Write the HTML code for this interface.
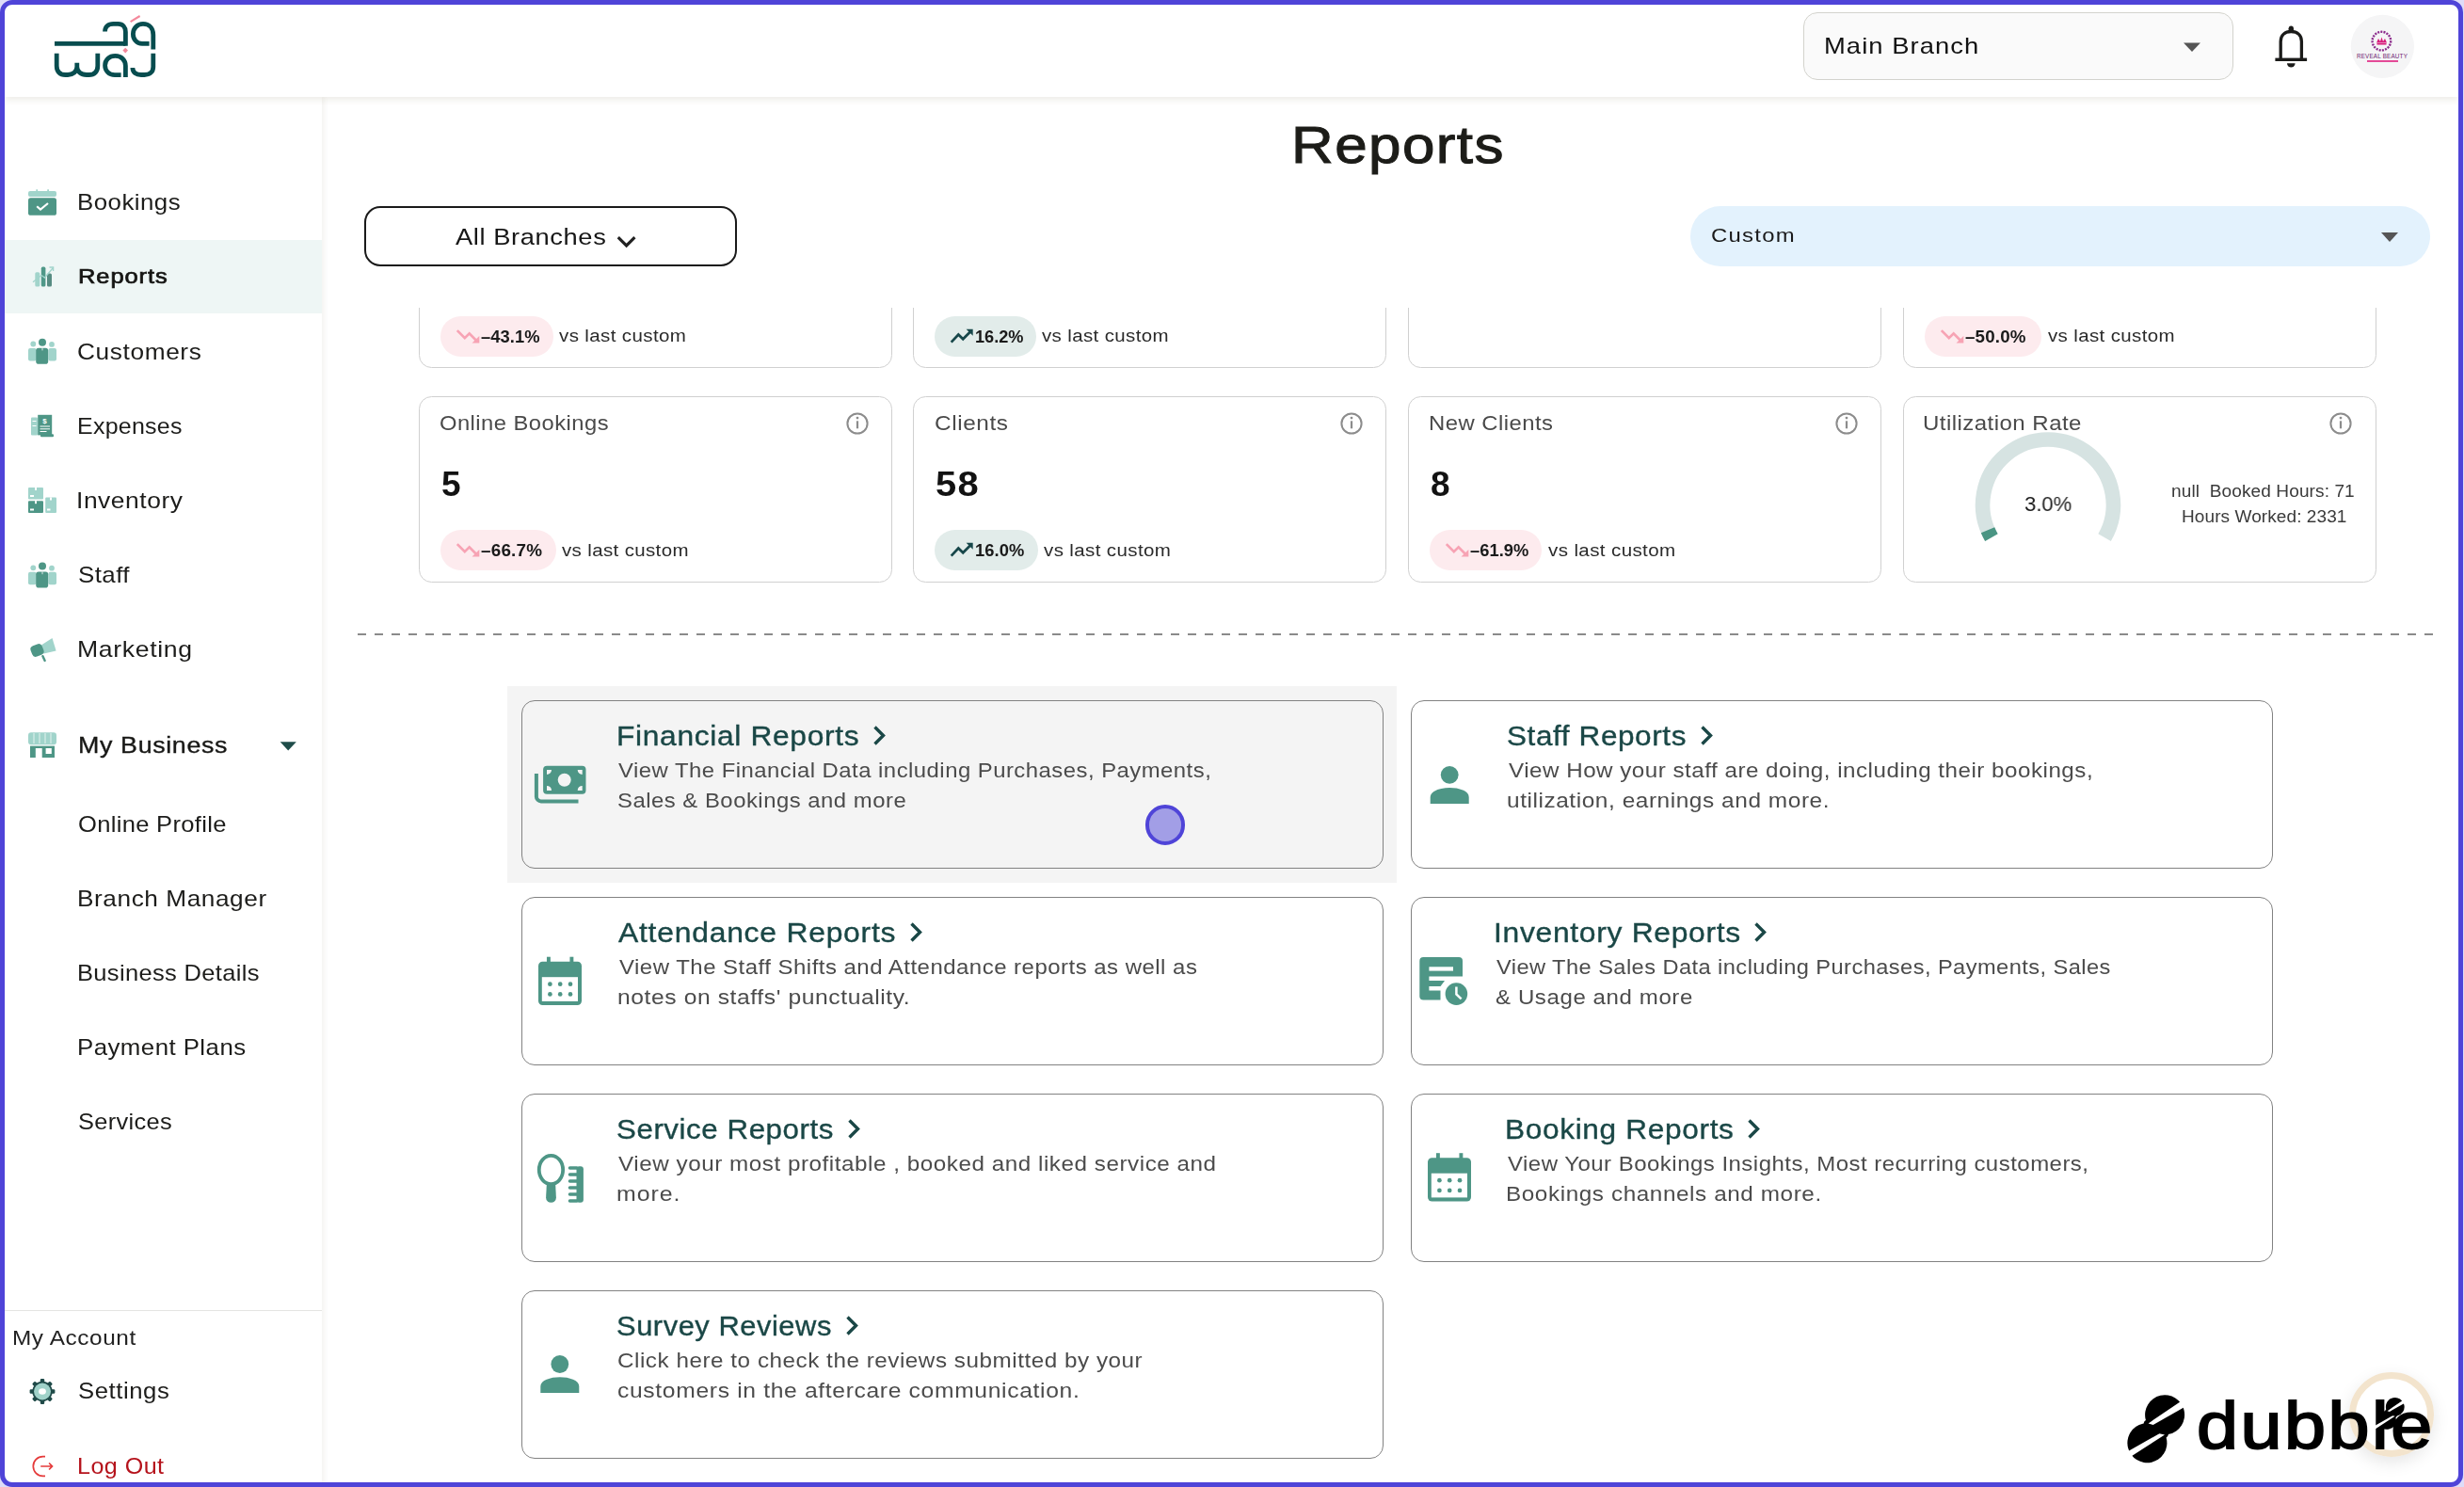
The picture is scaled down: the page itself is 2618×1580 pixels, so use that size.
<!DOCTYPE html>
<html><head><meta charset="utf-8"><title>Reports</title>
<style>
html,body{margin:0;padding:0;}
body{width:2618px;height:1580px;position:relative;overflow:hidden;background:#fff;
font-family:"Liberation Sans",sans-serif;}
.a{position:absolute;}
.t{position:absolute;white-space:nowrap;will-change:transform;}
.frame{position:absolute;left:0;top:0;width:2617px;height:1580px;box-sizing:border-box;
border:5px solid #4f44d8;border-radius:13px;z-index:50;pointer-events:none;
box-shadow:0 0 0 40px #dedcf8;}
</style></head><body>
<div class="a" style="left:5px;top:5px;width:2607px;height:98px;background:#fff;box-shadow:0 3px 7px rgba(95,80,40,0.11);z-index:2;"></div>
<svg class="a" style="left:50px;top:10px;z-index:3;" width="125" height="80" viewBox="50 10 125 80" xmlns="http://www.w3.org/2000/svg">
<g fill="none" stroke="#074d4f" stroke-width="4.8">
<path d="M58 46.4 H133.4"/>
<path d="M111.5 33.6 C111.5 28.5 115 25.4 120.5 25.4 H125.5 C130.5 25.4 133.4 28.8 133.4 34 V48.8"/>
<path d="M158.6 46.4 H151 C145 46.4 141.4 41.5 141.4 36 C141.4 30 146 25.4 152 25.4 C158.5 25.4 162.8 30 162.8 37 V52.6"/>
<path d="M60.2 56.8 V70 C60.2 76 63.5 79.5 69.5 79.5 H72 C77.5 79.5 81.8 76 81.8 71 V66.8 M81.8 71 C81.8 76 86 79.5 92 79.5 H94.5 C100.5 79.5 103.8 76 103.8 70 V56.8"/>
<path d="M128.6 79.6 H122 C115.5 79.6 111.6 75 111.6 69.5 C111.6 63.5 116 59.4 122.5 59.4 C129 59.4 133.4 64 133.4 70 V82"/>
<path d="M162.8 56.8 V71 C162.8 76.5 159 79.5 153.5 79.5 H150 C144.5 79.5 140.9 77 140.9 72"/>
</g>
<path d="M138.6 23.2 L148.6 17" stroke="#f4899c" stroke-width="2.1"/>
<path d="M133.2 50.8 L136 53.6 L133.2 56.4 L130.4 53.6 Z" fill="#f4899c"/>
</svg>
<div class="a" style="left:1916px;top:13px;width:457px;height:72px;box-sizing:border-box;border:1.5px solid #d3d3cd;border-radius:15px;background:#fafafa;z-index:3;"></div>
<div class="t" style="left:1938.42px;top:37.99px;font-size:23.4px;line-height:23.4px;color:#111;letter-spacing:0.895px;transform:scaleX(1.1711);transform-origin:0 0;z-index:4;">Main Branch</div>
<svg class="a" style="left:2318px;top:44px;z-index:4;" width="22" height="13" viewBox="2318 44 22 13" xmlns="http://www.w3.org/2000/svg"><path d="M2320 45.5 L2338 45.5 L2329 55 Z" fill="#555"/></svg>
<svg class="a" style="left:2412px;top:24px;z-index:4;" width="44" height="52" viewBox="2412 24 44 52" xmlns="http://www.w3.org/2000/svg">
<g fill="none" stroke="#1b1b19" stroke-width="3.3">
<path d="M2423.2 62 V44 C2423.2 37 2428 33.5 2434.3 33.5 C2440.6 33.5 2445.4 37 2445.4 44 V62"/>
</g>
<rect x="2417.4" y="61.6" width="33.7" height="3.4" fill="#1b1b19"/>
<circle cx="2434.3" cy="30.2" r="2.6" fill="#1b1b19"/>
<rect x="2431.7" y="30" width="5.2" height="3" fill="#1b1b19"/>
<path d="M2430 67.2 H2438.6 A4.3 4.3 0 0 1 2430 67.2 Z" fill="#1b1b19"/>
</svg>
<svg class="a" style="left:2496px;top:14px;z-index:4;" width="72" height="72" viewBox="2496 14 72 72" xmlns="http://www.w3.org/2000/svg">
<circle cx="2531.4" cy="49.4" r="33.6" fill="#f5f5f6"/>
<circle cx="2530.4" cy="43.6" r="9.8" fill="none" stroke="#8a2a8a" stroke-width="2.4" stroke-dasharray="2 1.2"/>
<path d="M2525 45.5 L2527 41 L2529 44 L2530.5 39.5 L2532 44 L2534 41 L2536 45.5 Z" fill="#d81b7a"/>
<rect x="2525.5" y="46" width="10" height="1.5" fill="#d81b7a"/>
<text x="2531" y="61.8" font-family="Liberation Sans" font-size="6.3" fill="#6f1f73" text-anchor="middle" letter-spacing="0.2">REVEAL BEAUTY</text>
<rect x="2515" y="64.2" width="33" height="1.6" fill="#e0217f"/>
</svg>
<div class="a" style="left:5px;top:103px;width:337px;height:1477px;background:#fff;box-shadow:2px 0 6px rgba(95,80,40,0.08);z-index:1;"></div>
<div class="a" style="left:5px;top:255px;width:337px;height:78px;background:#eef6f5;z-index:1;"></div>
<div class="t" style="left:81.65px;top:203.08px;font-size:24px;line-height:24px;color:#1c1c1a;letter-spacing:0.440px;transform:scaleX(1.0766);transform-origin:0 0;z-index:3;">Bookings</div>
<div class="t" style="left:82.58px;top:283.19px;font-size:22.1px;line-height:22.1px;color:#151513;letter-spacing:0.786px;transform:scaleX(1.1535);transform-origin:0 0;z-index:3;-webkit-text-stroke:0.7px #151513;">Reports</div>
<div class="t" style="left:82.49px;top:362.08px;font-size:24px;line-height:24px;color:#1c1c1a;letter-spacing:0.559px;transform:scaleX(1.0941);transform-origin:0 0;z-index:3;">Customers</div>
<div class="t" style="left:81.72px;top:441.18px;font-size:24px;line-height:24px;color:#1c1c1a;letter-spacing:0.246px;transform:scaleX(1.0396);transform-origin:0 0;z-index:3;">Expenses</div>
<div class="t" style="left:81.34px;top:519.88px;font-size:24px;line-height:24px;color:#1c1c1a;letter-spacing:0.499px;transform:scaleX(1.0994);transform-origin:0 0;z-index:3;">Inventory</div>
<div class="t" style="left:82.59px;top:598.98px;font-size:24px;line-height:24px;color:#1c1c1a;letter-spacing:0.401px;transform:scaleX(1.0800);transform-origin:0 0;z-index:3;">Staff</div>
<div class="t" style="left:81.58px;top:678.38px;font-size:24px;line-height:24px;color:#1c1c1a;letter-spacing:0.576px;transform:scaleX(1.1088);transform-origin:0 0;z-index:3;">Marketing</div>
<div class="t" style="left:82.56px;top:780.25px;font-size:24.4px;line-height:24.4px;color:#181816;letter-spacing:0.568px;transform:scaleX(1.1006);transform-origin:0 0;z-index:3;-webkit-text-stroke:0.35px #181816;">My Business</div>
<div class="t" style="left:82.61px;top:863.68px;font-size:24px;line-height:24px;color:#1c1c1a;letter-spacing:0.294px;transform:scaleX(1.0641);transform-origin:0 0;z-index:3;">Online Profile</div>
<div class="t" style="left:81.62px;top:943.08px;font-size:24px;line-height:24px;color:#1c1c1a;letter-spacing:0.518px;transform:scaleX(1.0921);transform-origin:0 0;z-index:3;">Branch Manager</div>
<div class="t" style="left:81.68px;top:1021.78px;font-size:24px;line-height:24px;color:#1c1c1a;letter-spacing:0.306px;transform:scaleX(1.0625);transform-origin:0 0;z-index:3;">Business Details</div>
<div class="t" style="left:81.65px;top:1101.48px;font-size:24px;line-height:24px;color:#1c1c1a;letter-spacing:0.421px;transform:scaleX(1.0759);transform-origin:0 0;z-index:3;">Payment Plans</div>
<div class="t" style="left:82.61px;top:1179.98px;font-size:24px;line-height:24px;color:#1c1c1a;letter-spacing:0.316px;transform:scaleX(1.0584);transform-origin:0 0;z-index:3;">Services</div>
<svg class="a" style="left:28px;top:199px;z-index:3;" width="34" height="32" viewBox="28 199 34 32" xmlns="http://www.w3.org/2000/svg">
<rect x="30" y="203" width="30" height="6" rx="2" fill="#a1d4cb"/>
<rect x="38.3" y="201.3" width="1.8" height="3" fill="#a1d4cb"/>
<rect x="50.2" y="201.3" width="1.8" height="3" fill="#a1d4cb"/>
<rect x="30" y="210.2" width="30" height="18.6" rx="2.6" fill="#4e9686"/>
<path d="M39.2 219.2 L43 222.6 L51 216" fill="none" stroke="#fff" stroke-width="2.2"/>
</svg>
<svg class="a" style="left:33px;top:282px;z-index:3;" width="26" height="24" viewBox="33 282 26 24" xmlns="http://www.w3.org/2000/svg">
<rect x="37.3" y="289.2" width="5" height="15.4" rx="1.6" fill="#a1d4cb"/>
<rect x="43.8" y="283.6" width="4.6" height="21" rx="1.6" fill="#4f9888"/>
<rect x="50" y="290.6" width="5" height="14" rx="1.6" fill="#578c82"/>
<path d="M35 299.8 L44 292.5 L47.5 295 L56 285" fill="none" stroke="#a1d4cb" stroke-width="1.3"/>
<path d="M52.5 284 L56.6 284 L56.6 288" fill="none" stroke="#a1d4cb" stroke-width="1.3"/>
</svg>
<svg class="a" style="left:28px;top:357px;z-index:3;" width="34" height="32" viewBox="28 357 34 32" xmlns="http://www.w3.org/2000/svg">
<circle cx="35.3" cy="365.5" r="2.9" fill="#a1d4cb"/>
<rect x="30" y="369.9" width="8.6" height="13.6" rx="2" fill="#a1d4cb"/>
<circle cx="55" cy="365.9" r="2.9" fill="#a1d4cb"/>
<rect x="51.4" y="369.9" width="8.6" height="13.6" rx="2" fill="#a1d4cb"/>
<circle cx="45" cy="363.7" r="4" fill="#4e9686"/>
<rect x="38.2" y="369.7" width="13" height="17" rx="2.8" fill="#4e9686"/>
<path d="M45 369.7 V372.4" stroke="#fff" stroke-width="0.8"/>
</svg>
<svg class="a" style="left:28px;top:595px;z-index:3;" width="34" height="32" viewBox="28 595 34 32" xmlns="http://www.w3.org/2000/svg">
<circle cx="35.3" cy="603.3000000000001" r="2.9" fill="#a1d4cb"/>
<rect x="30" y="607.7" width="8.6" height="13.6" rx="2" fill="#a1d4cb"/>
<circle cx="55" cy="603.7" r="2.9" fill="#a1d4cb"/>
<rect x="51.4" y="607.7" width="8.6" height="13.6" rx="2" fill="#a1d4cb"/>
<circle cx="45" cy="601.5" r="4" fill="#4e9686"/>
<rect x="38.2" y="607.5" width="13" height="17" rx="2.8" fill="#4e9686"/>
<path d="M45 607.5 V610.2" stroke="#fff" stroke-width="0.8"/>
</svg>
<svg class="a" style="left:31px;top:439px;z-index:3;" width="28" height="28" viewBox="31 439 28 28" xmlns="http://www.w3.org/2000/svg">
<rect x="33" y="443.4" width="7" height="19" rx="1" fill="#a1d4cb"/>
<rect x="34.5" y="447" width="4" height="1" fill="#fff"/>
<rect x="34.5" y="452" width="4" height="1" fill="#fff"/>
<rect x="40.2" y="440.8" width="15" height="21.6" fill="#4e9686"/>
<text x="47.6" y="450" font-family="Liberation Sans" font-weight="700" font-size="8" fill="#fff" text-anchor="middle">$</text>
<rect x="42.5" y="452.5" width="10.5" height="1" fill="#fff"/>
<rect x="42.5" y="455.3" width="10.5" height="1" fill="#fff"/>
<rect x="42.5" y="458" width="7" height="1" fill="#fff"/>
<rect x="43" y="461.2" width="14" height="3" rx="1" fill="#4e9686"/>
</svg>
<svg class="a" style="left:28px;top:516px;z-index:3;" width="34" height="31" viewBox="28 516 34 31" xmlns="http://www.w3.org/2000/svg">
<rect x="30" y="518" width="16" height="12.6" rx="1" fill="#a1d4cb"/>
<rect x="30" y="532.2" width="16" height="12.8" rx="1" fill="#4e9686"/>
<rect x="48.2" y="528.5" width="11.8" height="16.5" rx="1" fill="#a1d4cb"/>
<rect x="37" y="518" width="2" height="3" fill="#fff"/>
<rect x="37" y="532.2" width="2" height="3" fill="#fff"/>
<rect x="53" y="528.5" width="2" height="3" fill="#fff"/>
<rect x="32" y="526" width="4" height="2" fill="#fff"/>
<rect x="32" y="540.5" width="4" height="2" fill="#fff"/>
<rect x="50" y="540.5" width="3.5" height="2" fill="#fff"/>
</svg>
<svg class="a" style="left:30px;top:676px;z-index:3;" width="32" height="30" viewBox="30 676 32 30" xmlns="http://www.w3.org/2000/svg">
<path d="M43 686 L55.5 678 L59.6 691.5 L46.5 694.5 Z" fill="#a1d4cb"/>
<rect x="33" y="685" width="13" height="12" rx="4" fill="#4e9686" transform="rotate(-22 39.5 691)"/>
<rect x="45" y="696" width="2.4" height="7.5" rx="1" fill="#4e9686" transform="rotate(-25 46 699)"/>
</svg>
<svg class="a" style="left:28px;top:776px;z-index:3;" width="34" height="31" viewBox="28 776 34 31" xmlns="http://www.w3.org/2000/svg">
<rect x="30" y="778.2" width="30" height="13" rx="3" fill="#a1d4cb"/>
<path d="M36 779 V790 M42 779 V790 M48 779 V790 M54 779 V790" stroke="#fff" stroke-width="0.7"/>
<rect x="32" y="792.6" width="26" height="12.4" fill="#4e9686"/>
<rect x="37.8" y="795" width="6.9" height="10" fill="#fff"/>
<rect x="48.6" y="795" width="6.2" height="6" fill="#fff"/>
</svg>
<svg class="a" style="left:296px;top:786px;z-index:3;" width="21" height="14" viewBox="296 786 21 14" xmlns="http://www.w3.org/2000/svg"><path d="M297.7 788.2 L314.8 788.2 L306.2 797.6 Z" fill="#1f4d4a"/></svg>
<div class="a" style="left:5px;top:1391.5px;width:337px;height:1.5px;background:#e4e4e2;z-index:3;"></div>
<div class="t" style="left:13.17px;top:1411.38px;font-size:22px;line-height:22px;color:#222;letter-spacing:0.548px;transform:scaleX(1.1060);transform-origin:0 0;z-index:3;">My Account</div>
<svg class="a" style="left:30px;top:1463px;z-index:3;" width="31" height="31" viewBox="30 1463 31 31" xmlns="http://www.w3.org/2000/svg">
<g transform="translate(45 1478.5)">
<g fill="#1f4a48">
<circle r="10.7"/>
<rect x="-2.2" y="-13.4" width="4.4" height="4.6" rx="1.2" transform="rotate(0)"/><rect x="-2.2" y="-13.4" width="4.4" height="4.6" rx="1.2" transform="rotate(45)"/><rect x="-2.2" y="-13.4" width="4.4" height="4.6" rx="1.2" transform="rotate(90)"/><rect x="-2.2" y="-13.4" width="4.4" height="4.6" rx="1.2" transform="rotate(135)"/><rect x="-2.2" y="-13.4" width="4.4" height="4.6" rx="1.2" transform="rotate(180)"/><rect x="-2.2" y="-13.4" width="4.4" height="4.6" rx="1.2" transform="rotate(225)"/><rect x="-2.2" y="-13.4" width="4.4" height="4.6" rx="1.2" transform="rotate(270)"/><rect x="-2.2" y="-13.4" width="4.4" height="4.6" rx="1.2" transform="rotate(315)"/>
</g>
<circle r="9" fill="#a0d2c9"/>
<ellipse rx="3.9" ry="3.3" fill="#fff"/>
</g></svg>
<div class="t" style="left:82.60px;top:1467.08px;font-size:23.3px;line-height:23.3px;color:#1c1c1a;letter-spacing:0.508px;transform:scaleX(1.1038);transform-origin:0 0;z-index:3;">Settings</div>
<svg class="a" style="left:32px;top:1545px;z-index:3;" width="26" height="26" viewBox="32 1545 26 26" xmlns="http://www.w3.org/2000/svg">
<path d="M48 1547.7 H45.6 A10.3 10.3 0 0 0 45.6 1568.3 H48" fill="none" stroke="#e53b3b" stroke-width="1.7"/>
<path d="M43.2 1558 H55.4 M52.1 1554.5 L55.5 1558 L52.1 1561.5" fill="none" stroke="#e53b3b" stroke-width="1.7"/>
</svg>
<div class="t" style="left:81.71px;top:1546.68px;font-size:23.3px;line-height:23.3px;color:#b5121b;letter-spacing:0.435px;transform:scaleX(1.0771);transform-origin:0 0;z-index:3;">Log Out</div>
<div class="t" style="left:1371.64px;top:126.36px;font-size:56.4px;line-height:56.4px;color:#1c1c18;letter-spacing:1.300px;transform:scaleX(1.0981);transform-origin:0 0;-webkit-text-stroke:1.1px #1c1c18;">Reports</div>
<div class="a" style="left:387px;top:219px;width:396px;height:64px;box-sizing:border-box;border:2px solid #1a1a1a;border-radius:17px;background:#fff;"></div>
<div class="t" style="left:484.11px;top:239.81px;font-size:24.8px;line-height:24.8px;color:#161616;letter-spacing:0.532px;transform:scaleX(1.1016);transform-origin:0 0;">All Branches</div>
<svg class="a" style="left:653px;top:248px;" width="25" height="17" viewBox="653 248 25 17" xmlns="http://www.w3.org/2000/svg"><path d="M656.8 252.2 L665.6 261 L674.4 252.2" fill="none" stroke="#222" stroke-width="3.2"/></svg>
<div class="a" style="left:1796px;top:219px;width:786px;height:64px;border-radius:32px;background:#e3f2fd;"></div>
<div class="t" style="left:1817.81px;top:240.75px;font-size:19.9px;line-height:19.9px;color:#1a1a1a;letter-spacing:1.073px;transform:scaleX(1.1992);transform-origin:0 0;">Custom</div>
<svg class="a" style="left:2528px;top:245px;" width="22" height="14" viewBox="2528 245 22 14" xmlns="http://www.w3.org/2000/svg"><path d="M2530 247 L2548 247 L2539 257 Z" fill="#555"/></svg>
<div class="a" style="left:400px;top:327px;width:2180px;height:310px;overflow:hidden;">
<div class="a" style="left:-400px;top:-327px;width:2618px;height:1000px;">
<div class="a" style="left:445px;top:193.2px;width:503px;height:197.6px;box-sizing:border-box;border:1.8px solid #d0d0d0;border-radius:13.5px;background:#fff;"></div>
<div class="a" style="left:445px;top:421.2px;width:503px;height:197.6px;box-sizing:border-box;border:1.8px solid #d0d0d0;border-radius:13.5px;background:#fff;"></div>
<div class="a" style="left:970.3px;top:193.2px;width:503px;height:197.6px;box-sizing:border-box;border:1.8px solid #d0d0d0;border-radius:13.5px;background:#fff;"></div>
<div class="a" style="left:970.3px;top:421.2px;width:503px;height:197.6px;box-sizing:border-box;border:1.8px solid #d0d0d0;border-radius:13.5px;background:#fff;"></div>
<div class="a" style="left:1496px;top:193.2px;width:503px;height:197.6px;box-sizing:border-box;border:1.8px solid #d0d0d0;border-radius:13.5px;background:#fff;"></div>
<div class="a" style="left:1496px;top:421.2px;width:503px;height:197.6px;box-sizing:border-box;border:1.8px solid #d0d0d0;border-radius:13.5px;background:#fff;"></div>
<div class="a" style="left:2021.5px;top:193.2px;width:503px;height:197.6px;box-sizing:border-box;border:1.8px solid #d0d0d0;border-radius:13.5px;background:#fff;"></div>
<div class="a" style="left:2021.5px;top:421.2px;width:503px;height:197.6px;box-sizing:border-box;border:1.8px solid #d0d0d0;border-radius:13.5px;background:#fff;"></div>
<div class="a" style="left:467.5px;top:336px;width:120.3px;height:43px;border-radius:22px;background:#fdebee;"></div>
<div class="t" style="left:510.85px;top:348.89px;font-size:18.2px;line-height:18.2px;color:#1a1a1a;font-weight:700;letter-spacing:0.052px;transform:scaleX(1.0100);transform-origin:0 0;">–43.1%</div>
<div class="t" style="left:593.93px;top:348.39px;font-size:18.8px;line-height:18.8px;color:#2a2a2a;letter-spacing:0.348px;transform:scaleX(1.0920);transform-origin:0 0;">vs last custom</div>
<svg class="a" style="left:479.5px;top:346px;" width="34" height="24" viewBox="479.5 346 34 24" xmlns="http://www.w3.org/2000/svg">
<path d="M485.30 351.10 L493.30 359.10 L498.20 354.30 L506.00 362.20" fill="none" stroke="#f7a3b4" stroke-width="2.7"/>
<path d="M508.80 356.90 L508.80 364.50 L501.00 364.50 Z" fill="#f7a3b4"/></svg>
<div class="a" style="left:993.2px;top:336px;width:108.1px;height:43px;border-radius:22px;background:#e2ecea;"></div>
<div class="t" style="left:1035.86px;top:348.89px;font-size:18.2px;line-height:18.2px;color:#1a1a1a;font-weight:700;letter-spacing:-0.037px;transform:scaleX(0.9931);transform-origin:0 0;">16.2%</div>
<div class="t" style="left:1107.43px;top:348.39px;font-size:18.8px;line-height:18.8px;color:#2a2a2a;letter-spacing:0.342px;transform:scaleX(1.0903);transform-origin:0 0;">vs last custom</div>
<svg class="a" style="left:1005.2px;top:346px;" width="34" height="24" viewBox="1005.2 346 34 24" xmlns="http://www.w3.org/2000/svg">
<path d="M1010.90 363.60 L1018.50 355.50 L1023.40 360.30 L1031.40 352.30" fill="none" stroke="#17474a" stroke-width="2.7"/>
<path d="M1026.80 349.70 L1033.90 349.70 L1033.90 356.80 Z" fill="#17474a"/></svg>
<div class="a" style="left:2044.6px;top:336px;width:124.9px;height:43px;border-radius:22px;background:#fdebee;"></div>
<div class="t" style="left:2087.94px;top:348.89px;font-size:18.2px;line-height:18.2px;color:#1a1a1a;font-weight:700;letter-spacing:0.164px;transform:scaleX(1.0317);transform-origin:0 0;">–50.0%</div>
<div class="t" style="left:2176.23px;top:348.39px;font-size:18.8px;line-height:18.8px;color:#2a2a2a;letter-spacing:0.342px;transform:scaleX(1.0903);transform-origin:0 0;">vs last custom</div>
<svg class="a" style="left:2056.6px;top:346px;" width="34" height="24" viewBox="2056.6 346 34 24" xmlns="http://www.w3.org/2000/svg">
<path d="M2062.40 351.10 L2070.40 359.10 L2075.30 354.30 L2083.10 362.20" fill="none" stroke="#f7a3b4" stroke-width="2.7"/>
<path d="M2085.90 356.90 L2085.90 364.50 L2078.10 364.50 Z" fill="#f7a3b4"/></svg>
<div class="t" style="left:467.29px;top:438.55px;font-size:21.8px;line-height:21.8px;color:#4a4a4a;letter-spacing:0.423px;transform:scaleX(1.0903);transform-origin:0 0;">Online Bookings</div>
<svg class="a" style="left:897.5px;top:436.5px;" width="26" height="26" viewBox="897.5 436.5 26 26" xmlns="http://www.w3.org/2000/svg">
<circle cx="910.5" cy="449.5" r="10.6" fill="none" stroke="#8c8c8c" stroke-width="2"/>
<rect x="909.4" y="446.8" width="2.2" height="8" fill="#8c8c8c"/>
<circle cx="910.5" cy="443.6" r="1.4" fill="#8c8c8c"/></svg>
<div class="t" style="left:992.58px;top:438.55px;font-size:21.8px;line-height:21.8px;color:#4a4a4a;letter-spacing:0.528px;transform:scaleX(1.1179);transform-origin:0 0;">Clients</div>
<svg class="a" style="left:1422.8px;top:436.5px;" width="26" height="26" viewBox="1422.8 436.5 26 26" xmlns="http://www.w3.org/2000/svg">
<circle cx="1435.8" cy="449.5" r="10.6" fill="none" stroke="#8c8c8c" stroke-width="2"/>
<rect x="1434.7" y="446.8" width="2.2" height="8" fill="#8c8c8c"/>
<circle cx="1435.8" cy="443.6" r="1.4" fill="#8c8c8c"/></svg>
<div class="t" style="left:1518.01px;top:438.55px;font-size:21.8px;line-height:21.8px;color:#4a4a4a;letter-spacing:0.444px;transform:scaleX(1.0934);transform-origin:0 0;">New Clients</div>
<svg class="a" style="left:1948.5px;top:436.5px;" width="26" height="26" viewBox="1948.5 436.5 26 26" xmlns="http://www.w3.org/2000/svg">
<circle cx="1961.5" cy="449.5" r="10.6" fill="none" stroke="#8c8c8c" stroke-width="2"/>
<rect x="1960.4" y="446.8" width="2.2" height="8" fill="#8c8c8c"/>
<circle cx="1961.5" cy="443.6" r="1.4" fill="#8c8c8c"/></svg>
<div class="t" style="left:2043.46px;top:438.55px;font-size:21.8px;line-height:21.8px;color:#4a4a4a;letter-spacing:0.411px;transform:scaleX(1.1028);transform-origin:0 0;">Utilization Rate</div>
<svg class="a" style="left:2474.0px;top:436.5px;" width="26" height="26" viewBox="2474.0 436.5 26 26" xmlns="http://www.w3.org/2000/svg">
<circle cx="2487.0" cy="449.5" r="10.6" fill="none" stroke="#8c8c8c" stroke-width="2"/>
<rect x="2485.9" y="446.8" width="2.2" height="8" fill="#8c8c8c"/>
<circle cx="2487.0" cy="443.6" r="1.4" fill="#8c8c8c"/></svg>
<div class="t" style="left:468.59px;top:495.88px;font-size:37px;line-height:37px;color:#121212;font-weight:700;">5</div>
<div class="t" style="left:993.60px;top:495.88px;font-size:37px;line-height:37px;color:#121212;font-weight:700;letter-spacing:1.278px;transform:scaleX(1.0782);transform-origin:0 0;">58</div>
<div class="t" style="left:1519.59px;top:495.88px;font-size:37px;line-height:37px;color:#121212;font-weight:700;">8</div>
<div class="a" style="left:467.5px;top:563.4px;width:123.2px;height:43px;border-radius:22px;background:#fdebee;"></div>
<div class="t" style="left:510.93px;top:576.29px;font-size:18.2px;line-height:18.2px;color:#1a1a1a;font-weight:700;letter-spacing:0.193px;transform:scaleX(1.0374);transform-origin:0 0;">–66.7%</div>
<div class="t" style="left:596.93px;top:575.79px;font-size:18.8px;line-height:18.8px;color:#2a2a2a;letter-spacing:0.340px;transform:scaleX(1.0897);transform-origin:0 0;">vs last custom</div>
<svg class="a" style="left:479.5px;top:573.4px;" width="34" height="24" viewBox="479.5 573.4 34 24" xmlns="http://www.w3.org/2000/svg">
<path d="M485.30 578.50 L493.30 586.50 L498.20 581.70 L506.00 589.60" fill="none" stroke="#f7a3b4" stroke-width="2.7"/>
<path d="M508.80 584.30 L508.80 591.90 L501.00 591.90 Z" fill="#f7a3b4"/></svg>
<div class="a" style="left:993.2px;top:563.4px;width:109.7px;height:43px;border-radius:22px;background:#e2ecea;"></div>
<div class="t" style="left:1035.84px;top:576.29px;font-size:18.2px;line-height:18.2px;color:#1a1a1a;font-weight:700;letter-spacing:0.046px;transform:scaleX(1.0085);transform-origin:0 0;">16.0%</div>
<div class="t" style="left:1108.93px;top:575.79px;font-size:18.8px;line-height:18.8px;color:#2a2a2a;letter-spacing:0.348px;transform:scaleX(1.0920);transform-origin:0 0;">vs last custom</div>
<svg class="a" style="left:1005.2px;top:573.4px;" width="34" height="24" viewBox="1005.2 573.4 34 24" xmlns="http://www.w3.org/2000/svg">
<path d="M1010.90 591.00 L1018.50 582.90 L1023.40 587.70 L1031.40 579.70" fill="none" stroke="#17474a" stroke-width="2.7"/>
<path d="M1026.80 577.10 L1033.90 577.10 L1033.90 584.20 Z" fill="#17474a"/></svg>
<div class="a" style="left:1519.3px;top:563.4px;width:119.2px;height:43px;border-radius:22px;background:#fdebee;"></div>
<div class="t" style="left:1561.75px;top:576.29px;font-size:18.2px;line-height:18.2px;color:#1a1a1a;font-weight:700;letter-spacing:0.034px;transform:scaleX(1.0066);transform-origin:0 0;">–61.9%</div>
<div class="t" style="left:1644.53px;top:575.79px;font-size:18.8px;line-height:18.8px;color:#2a2a2a;letter-spacing:0.353px;transform:scaleX(1.0932);transform-origin:0 0;">vs last custom</div>
<svg class="a" style="left:1531.3px;top:573.4px;" width="34" height="24" viewBox="1531.3 573.4 34 24" xmlns="http://www.w3.org/2000/svg">
<path d="M1537.10 578.50 L1545.10 586.50 L1550.00 581.70 L1557.80 589.60" fill="none" stroke="#f7a3b4" stroke-width="2.7"/>
<path d="M1560.60 584.30 L1560.60 591.90 L1552.80 591.90 Z" fill="#f7a3b4"/></svg>
<svg class="a" style="left:2090px;top:450px;" width="175" height="140" viewBox="2090 450 175 140" xmlns="http://www.w3.org/2000/svg">
<path d="M2115.90 571.10 A69.4 69.4 0 1 1 2236.10 571.10" fill="none" stroke="#d6e3e2" stroke-width="15.6"/>
<path d="M2115.90 571.10 A69.4 69.4 0 0 1 2112.02 563.29" fill="none" stroke="#4a9583" stroke-width="15.6"/></svg>
<div class="t" style="left:2150.99px;top:524.95px;font-size:22.5px;line-height:22.5px;color:#1e1e1e;letter-spacing:-0.106px;transform:scaleX(0.9851);transform-origin:0 0;">3.0%</div>
<div class="t" style="left:2307.23px;top:513.17px;font-size:18.7px;line-height:18.7px;color:#3a3a3a;letter-spacing:0.079px;transform:scaleX(1.0209);transform-origin:0 0;white-space:pre;">null  Booked Hours: 71</div>
<div class="t" style="left:2317.61px;top:540.37px;font-size:18.7px;line-height:18.7px;color:#3a3a3a;letter-spacing:0.076px;transform:scaleX(1.0179);transform-origin:0 0;">Hours Worked: 2331</div>
</div></div>
<div class="a" style="left:380px;top:672.5px;width:2205px;height:2px;background:repeating-linear-gradient(90deg,#8a8a8a 0 9px,transparent 9px 18px);"></div>
<div class="a" style="left:539.2px;top:729.3px;width:945.2px;height:208.7px;background:#f4f4f4;"></div>
<div class="a" style="left:554px;top:744px;width:915.7px;height:179.4px;box-sizing:border-box;border:1.75px solid #828282;border-radius:14px;background:#f4f4f4;"></div>
<div class="t" style="left:654.76px;top:768.01px;font-size:28.7px;line-height:28.7px;color:#1a4746;letter-spacing:0.605px;transform:scaleX(1.1058);transform-origin:0 0;font-weight:400;-webkit-text-stroke:0.35px #1a4746;">Financial Reports</div>
<svg class="a" style="left:925.5px;top:769px;" width="18" height="24" viewBox="925.5 769 18 24" xmlns="http://www.w3.org/2000/svg"><path d="M929.0 772.5 L938.0 781.5 L929.0 790.5" fill="none" stroke="#1a4746" stroke-width="3.4"/></svg>
<div class="t" style="left:657.32px;top:808.33px;font-size:21.7px;line-height:21.7px;color:#4b4b4b;letter-spacing:0.435px;transform:scaleX(1.1011);transform-origin:0 0;">View The Financial Data including Purchases, Payments,</div>
<div class="t" style="left:656.29px;top:840.43px;font-size:21.7px;line-height:21.7px;color:#4b4b4b;letter-spacing:0.463px;transform:scaleX(1.1002);transform-origin:0 0;">Sales &amp; Bookings and more</div>
<div class="a" style="left:1499px;top:744px;width:915.7px;height:179.4px;box-sizing:border-box;border:1.75px solid #828282;border-radius:14px;background:#fff;"></div>
<div class="t" style="left:1601.23px;top:768.01px;font-size:28.7px;line-height:28.7px;color:#1a4746;letter-spacing:0.555px;transform:scaleX(1.0969);transform-origin:0 0;font-weight:400;-webkit-text-stroke:0.35px #1a4746;">Staff Reports</div>
<svg class="a" style="left:1804.8px;top:769px;" width="18" height="24" viewBox="1804.8 769 18 24" xmlns="http://www.w3.org/2000/svg"><path d="M1808.3 772.5 L1817.3 781.5 L1808.3 790.5" fill="none" stroke="#1a4746" stroke-width="3.4"/></svg>
<div class="t" style="left:1602.62px;top:808.33px;font-size:21.7px;line-height:21.7px;color:#4b4b4b;letter-spacing:0.456px;transform:scaleX(1.1139);transform-origin:0 0;">View How your staff are doing, including their bookings,</div>
<div class="t" style="left:1601.15px;top:840.43px;font-size:21.7px;line-height:21.7px;color:#4b4b4b;letter-spacing:0.497px;transform:scaleX(1.1258);transform-origin:0 0;">utilization, earnings and more.</div>
<div class="a" style="left:554px;top:952.9px;width:915.7px;height:179.4px;box-sizing:border-box;border:1.75px solid #828282;border-radius:14px;background:#fff;"></div>
<div class="t" style="left:657.49px;top:976.91px;font-size:28.7px;line-height:28.7px;color:#1a4746;letter-spacing:0.683px;transform:scaleX(1.1106);transform-origin:0 0;font-weight:400;-webkit-text-stroke:0.35px #1a4746;">Attendance Reports</div>
<svg class="a" style="left:965.3px;top:977.9px;" width="18" height="24" viewBox="965.3 977.9 18 24" xmlns="http://www.w3.org/2000/svg"><path d="M968.8 981.4 L977.8 990.4 L968.8 999.4" fill="none" stroke="#1a4746" stroke-width="3.4"/></svg>
<div class="t" style="left:657.52px;top:1017.23px;font-size:21.7px;line-height:21.7px;color:#4b4b4b;letter-spacing:0.434px;transform:scaleX(1.1059);transform-origin:0 0;">View The Staff Shifts and Attendance reports as well as</div>
<div class="t" style="left:655.96px;top:1049.33px;font-size:21.7px;line-height:21.7px;color:#4b4b4b;letter-spacing:0.515px;transform:scaleX(1.1367);transform-origin:0 0;">notes on staffs' punctuality.</div>
<div class="a" style="left:1499px;top:952.9px;width:915.7px;height:179.4px;box-sizing:border-box;border:1.75px solid #828282;border-radius:14px;background:#fff;"></div>
<div class="t" style="left:1586.93px;top:976.91px;font-size:28.7px;line-height:28.7px;color:#1a4746;letter-spacing:0.630px;transform:scaleX(1.1087);transform-origin:0 0;font-weight:400;-webkit-text-stroke:0.35px #1a4746;">Inventory Reports</div>
<svg class="a" style="left:1862.4px;top:977.9px;" width="18" height="24" viewBox="1862.4 977.9 18 24" xmlns="http://www.w3.org/2000/svg"><path d="M1865.9 981.4 L1874.9 990.4 L1865.9 999.4" fill="none" stroke="#1a4746" stroke-width="3.4"/></svg>
<div class="t" style="left:1589.82px;top:1017.23px;font-size:21.7px;line-height:21.7px;color:#4b4b4b;letter-spacing:0.395px;transform:scaleX(1.0902);transform-origin:0 0;">View The Sales Data including Purchases, Payments, Sales</div>
<div class="t" style="left:1589.10px;top:1049.33px;font-size:21.7px;line-height:21.7px;color:#4b4b4b;letter-spacing:0.538px;transform:scaleX(1.1081);transform-origin:0 0;">&amp; Usage and more</div>
<div class="a" style="left:554px;top:1161.8px;width:915.7px;height:179.4px;box-sizing:border-box;border:1.75px solid #828282;border-radius:14px;background:#fff;"></div>
<div class="t" style="left:655.44px;top:1185.81px;font-size:28.7px;line-height:28.7px;color:#1a4746;letter-spacing:0.536px;transform:scaleX(1.0890);transform-origin:0 0;font-weight:400;-webkit-text-stroke:0.35px #1a4746;">Service Reports</div>
<svg class="a" style="left:899.0999999999999px;top:1186.8px;" width="18" height="24" viewBox="899.0999999999999 1186.8 18 24" xmlns="http://www.w3.org/2000/svg"><path d="M902.5999999999999 1190.3 L911.5999999999999 1199.3 L902.5999999999999 1208.3" fill="none" stroke="#1a4746" stroke-width="3.4"/></svg>
<div class="t" style="left:656.82px;top:1226.13px;font-size:21.7px;line-height:21.7px;color:#4b4b4b;letter-spacing:0.479px;transform:scaleX(1.1172);transform-origin:0 0;">View your most profitable , booked and liked service and</div>
<div class="t" style="left:655.24px;top:1258.23px;font-size:21.7px;line-height:21.7px;color:#4b4b4b;letter-spacing:0.798px;transform:scaleX(1.1489);transform-origin:0 0;">more.</div>
<div class="a" style="left:1499px;top:1161.8px;width:915.7px;height:179.4px;box-sizing:border-box;border:1.75px solid #828282;border-radius:14px;background:#fff;"></div>
<div class="t" style="left:1599.27px;top:1185.81px;font-size:28.7px;line-height:28.7px;color:#1a4746;letter-spacing:0.622px;transform:scaleX(1.1000);transform-origin:0 0;font-weight:400;-webkit-text-stroke:0.35px #1a4746;">Booking Reports</div>
<svg class="a" style="left:1855.4px;top:1186.8px;" width="18" height="24" viewBox="1855.4 1186.8 18 24" xmlns="http://www.w3.org/2000/svg"><path d="M1858.9 1190.3 L1867.9 1199.3 L1858.9 1208.3" fill="none" stroke="#1a4746" stroke-width="3.4"/></svg>
<div class="t" style="left:1601.82px;top:1226.13px;font-size:21.7px;line-height:21.7px;color:#4b4b4b;letter-spacing:0.441px;transform:scaleX(1.1054);transform-origin:0 0;">View Your Bookings Insights, Most recurring customers,</div>
<div class="t" style="left:1599.88px;top:1258.23px;font-size:21.7px;line-height:21.7px;color:#4b4b4b;letter-spacing:0.534px;transform:scaleX(1.1187);transform-origin:0 0;">Bookings channels and more.</div>
<div class="a" style="left:554px;top:1370.7px;width:915.7px;height:179.4px;box-sizing:border-box;border:1.75px solid #828282;border-radius:14px;background:#fff;"></div>
<div class="t" style="left:655.46px;top:1394.71px;font-size:28.7px;line-height:28.7px;color:#1a4746;letter-spacing:0.501px;transform:scaleX(1.0763);transform-origin:0 0;font-weight:400;-webkit-text-stroke:0.35px #1a4746;">Survey Reviews</div>
<svg class="a" style="left:897.0999999999999px;top:1395.7px;" width="18" height="24" viewBox="897.0999999999999 1395.7 18 24" xmlns="http://www.w3.org/2000/svg"><path d="M900.5999999999999 1399.2 L909.5999999999999 1408.2 L900.5999999999999 1417.2" fill="none" stroke="#1a4746" stroke-width="3.4"/></svg>
<div class="t" style="left:655.69px;top:1435.03px;font-size:21.7px;line-height:21.7px;color:#4b4b4b;letter-spacing:0.481px;transform:scaleX(1.1170);transform-origin:0 0;">Click here to check the reviews submitted by your</div>
<div class="t" style="left:655.83px;top:1467.13px;font-size:21.7px;line-height:21.7px;color:#4b4b4b;letter-spacing:0.575px;transform:scaleX(1.1371);transform-origin:0 0;">customers in the aftercare communication.</div>
<svg class="a" style="left:565px;top:810px;" width="60" height="46" viewBox="565 810 60 46" xmlns="http://www.w3.org/2000/svg">
<rect x="577.1" y="813.7" width="45.4" height="30.1" rx="4" fill="#4e9686"/>
<circle cx="599.7" cy="828.8" r="7" fill="#f4f4f4"/>
<path d="M581 818 h5 A5 5 0 0 1 581 823 Z M618.7 818 h-5 A5 5 0 0 0 618.7 823 Z M581 839.9 h5 A5 5 0 0 0 581 834.9 Z M618.7 839.9 h-5 A5 5 0 0 1 618.7 834.9 Z" fill="#f4f4f4"/>
<path d="M569.9 822 V846.4 A5 5 0 0 0 574.9 851.4 H614.5" fill="none" stroke="#4e9686" stroke-width="4"/>
</svg>
<svg class="a" style="left:1517px;top:811px;" width="46" height="46" viewBox="1517 811 46 46" xmlns="http://www.w3.org/2000/svg">
<circle cx="1540.2" cy="823.3" r="9.4" fill="#4e9686"/>
<path d="M1519.7 853.9 V846.9 C1519.7 840.4 1530.2 837.1 1540.2 837.1 C1550.2 837.1 1560.7 840.4 1560.7 846.9 V853.9 Z" fill="#4e9686"/></svg>
<svg class="a" style="left:572px;top:1437px;" width="46" height="46" viewBox="572 1437 46 46" xmlns="http://www.w3.org/2000/svg">
<circle cx="594.8" cy="1449.5" r="9.4" fill="#4e9686"/>
<path d="M574.3 1480 V1473 C574.3 1466.5 584.8 1463.2 594.8 1463.2 C604.8 1463.2 615.3 1466.5 615.3 1473 V1480 Z" fill="#4e9686"/></svg>
<svg class="a" style="left:570px;top:1014px;" width="50" height="56" viewBox="570 1014 50 56" xmlns="http://www.w3.org/2000/svg"><rect x="572" y="1021.7" width="46" height="46.3" rx="4.5" fill="#4e9686"/><rect x="575.8" y="1038.2" width="38.2" height="25.7" fill="#fff"/><rect x="580.95" y="1016.7" width="3.9" height="7" fill="#4e9686"/><rect x="605.45" y="1016.7" width="3.9" height="7" fill="#4e9686"/><circle cx="584.4" cy="1045.7" r="2.35" fill="#4e9686"/><circle cx="595.2" cy="1045.7" r="2.35" fill="#4e9686"/><circle cx="606" cy="1045.7" r="2.35" fill="#4e9686"/><circle cx="584.4" cy="1056.4" r="2.35" fill="#4e9686"/><circle cx="595.2" cy="1056.4" r="2.35" fill="#4e9686"/><circle cx="606" cy="1056.4" r="2.35" fill="#4e9686"/></svg>
<svg class="a" style="left:1515px;top:1222px;" width="50" height="56" viewBox="1515 1222 50 56" xmlns="http://www.w3.org/2000/svg"><rect x="1517" y="1230.2" width="46" height="46.3" rx="4.5" fill="#4e9686"/><rect x="1520.8" y="1246.7" width="38.2" height="25.7" fill="#fff"/><rect x="1525.95" y="1225.2" width="3.9" height="7" fill="#4e9686"/><rect x="1550.45" y="1225.2" width="3.9" height="7" fill="#4e9686"/><circle cx="1529.4" cy="1254.2" r="2.35" fill="#4e9686"/><circle cx="1540.2" cy="1254.2" r="2.35" fill="#4e9686"/><circle cx="1551" cy="1254.2" r="2.35" fill="#4e9686"/><circle cx="1529.4" cy="1264.9" r="2.35" fill="#4e9686"/><circle cx="1540.2" cy="1264.9" r="2.35" fill="#4e9686"/><circle cx="1551" cy="1264.9" r="2.35" fill="#4e9686"/></svg>
<svg class="a" style="left:1505px;top:1014px;" width="58" height="58" viewBox="1505 1014 58 58" xmlns="http://www.w3.org/2000/svg">
<rect x="1508.3" y="1017" width="45.7" height="45.5" rx="4" fill="#4e9686"/>
<rect x="1518.4" y="1027.3" width="25.6" height="4.3" fill="#fff"/>
<path d="M1518.4 1037.5 H1557 V1064 H1530.5 V1052.6 H1518.4 V1048 H1530.5 L1535 1041.9 H1518.4 Z" fill="#fff"/>
<circle cx="1547.4" cy="1056.1" r="11.8" fill="#4e9686"/>
<path d="M1547.4 1048.6 V1056.4 L1552.6 1061.4" fill="none" stroke="#fff" stroke-width="2.5"/>
</svg>
<svg class="a" style="left:569px;top:1224px;" width="54" height="56" viewBox="569 1224 54 56" xmlns="http://www.w3.org/2000/svg">
<ellipse cx="585.45" cy="1243" rx="12.7" ry="15.2" fill="none" stroke="#4e9686" stroke-width="3.8"/>
<path d="M580.8 1259 H590.2 L590.9 1272.4 A5.3 5.3 0 0 1 580.1 1272.4 Z" fill="#4e9686"/>
<rect x="612.5" y="1239.2" width="7.4" height="38.5" rx="3" fill="#4e9686"/>
<rect x="603.7" y="1239.2" width="11" height="3.6" rx="1.8" fill="#4e9686"/><rect x="603.7" y="1246.2" width="11" height="3.6" rx="1.8" fill="#4e9686"/><rect x="603.7" y="1253.2" width="11" height="3.6" rx="1.8" fill="#4e9686"/><rect x="603.7" y="1260.2" width="11" height="3.6" rx="1.8" fill="#4e9686"/><rect x="603.7" y="1267.2" width="11" height="3.6" rx="1.8" fill="#4e9686"/><rect x="603.7" y="1274.2" width="11" height="3.6" rx="1.8" fill="#4e9686"/>
</svg>
<div class="a" style="left:1216.6px;top:854.9px;width:42.8px;height:42.8px;box-sizing:border-box;border:4.9px solid #4f44d8;border-radius:50%;background:#a29ee6;z-index:5;"></div>
<svg class="a" style="left:2250px;top:1470px;z-index:6;" width="90" height="95" viewBox="2250 1470 90 95" xmlns="http://www.w3.org/2000/svg"><g fill="#000">
<g transform="rotate(32 2290.75 1518.25)">
<circle cx="2290.75" cy="1500.6" r="21"/>
<circle cx="2290.75" cy="1535.9" r="21"/>
<ellipse cx="2290.75" cy="1518.25" rx="14.6" ry="9"/>
</g></g>
<path d="M2282.6 1512.4 L2326 1482.9 L2326 1492.3 L2287.7 1514.1 Z" fill="#fff"/>
<path d="M2255 1545.4 L2294.4 1523.2 L2300 1524.4 L2255 1553.4 Z" fill="#fff"/></svg>
<div class="t" style="left:2334.33px;top:1480.04px;font-size:70px;line-height:70px;color:#000;letter-spacing:2.209px;transform:scaleX(1.1307);transform-origin:0 0;z-index:6;-webkit-text-stroke:1.9px #000;">dubble</div>
<div class="a" style="left:2496px;top:1458px;width:90px;height:90px;box-sizing:border-box;border:7px solid #f3e4cd;border-radius:50%;box-shadow:0 6px 18px rgba(0,0,0,0.10);z-index:5;"></div>
<svg class="a" style="left:2520px;top:1480px;z-index:8;" width="40" height="44" viewBox="2520 1480 40 44" xmlns="http://www.w3.org/2000/svg"><g transform="translate(2540.5 1502) scale(0.47) translate(-2291 -1518.5)"><g fill="#000">
<g transform="rotate(32 2290.75 1518.25)">
<circle cx="2290.75" cy="1500.6" r="21"/>
<circle cx="2290.75" cy="1535.9" r="21"/>
<ellipse cx="2290.75" cy="1518.25" rx="14.6" ry="9"/>
</g></g>
<path d="M2282.6 1512.4 L2326 1482.9 L2326 1492.3 L2287.7 1514.1 Z" fill="#fff"/>
<path d="M2255 1545.4 L2294.4 1523.2 L2300 1524.4 L2255 1553.4 Z" fill="#fff"/></g></svg>
<div class="frame"></div>
</body></html>
